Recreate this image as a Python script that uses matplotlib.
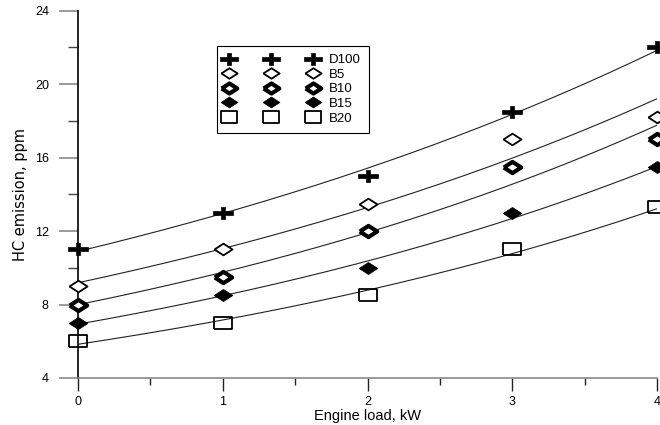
import numpy as np
import matplotlib.pyplot as plt
from matplotlib.path import Path

load = [0, 1, 2, 3, 4]
series = ['D100', 'B5', 'B10', 'B15', 'B20']
d100 = [11.0, 13.0, 15.0, 18.5, 22.0]
b5 = [9.0, 11.0, 13.5, 17.0, 18.2]
b10 = [8.0, 9.5, 12.0, 15.5, 17.0]
b15 = [7.0, 8.5, 10.0, 13.0, 15.5]
b20 = [6.0, 7.0, 8.5, 11.0, 13.3]
values = [d100, b5, b10, b15, b20]

plt.rcParams['font.family'] = ['Liberation Sans', 'DejaVu Sans']

# markers in the picture are stretched wider than tall
a = 1.55
t = 0.34
plus = Path([(-a, -t), (-t * 1.1, -t), (-t * 1.1, -1), (t * 1.1, -1), (t * 1.1, -t), (a, -t),
             (a, t), (t * 1.1, t), (t * 1.1, 1), (-t * 1.1, 1), (-t * 1.1, t), (-a, t), (-a, -t)])
diamond = Path([(-a, 0), (0, -1), (a, 0), (0, 1), (-a, 0)])
rect = Path([(-a, -1.05), (a, -1.05), (a, 1.05), (-a, 1.05), (-a, -1.05)])

styles = [
    dict(marker=plus, markersize=14.5, markerfacecolor='black', markeredgecolor='black', markeredgewidth=0.5),
    dict(marker=diamond, markersize=13, markerfacecolor='white', markeredgecolor='black', markeredgewidth=1.3),
    dict(marker=diamond, markersize=12.5, markerfacecolor='white', markeredgecolor='black', markeredgewidth=3.0),
    dict(marker=diamond, markersize=13.5, markerfacecolor='black', markeredgecolor='black', markeredgewidth=0.5),
    dict(marker=rect, markersize=13, markerfacecolor='none', markeredgecolor='black', markeredgewidth=1.3),
]

fig = plt.figure(figsize=(6.6, 4.25), dpi=100)
ax = fig.add_axes([78 / 660, 47 / 425, 579 / 660, 367.3 / 425])

x = np.array(load, dtype=float)
xs = np.linspace(0, 4, 200)
for name, y, st in zip(series, values, styles):
    # exponential trend line fitted to each series
    k, c = np.polyfit(x, np.log(y), 1)
    ax.plot(xs, np.exp(c + k * xs), color='#222222', linewidth=0.8, zorder=2)
    ax.plot(x, y, linestyle='none', label=name, clip_on=False, zorder=4, **st)

ax.set_xlim(0, 4)
ax.set_ylim(4, 24)
ax.set_xticks([0, 1, 2, 3, 4])
ax.set_xticks([0.5, 1.5, 2.5, 3.5], minor=True)
ax.set_yticks([4, 8, 12, 16, 20, 24])
ax.set_yticks([10, 14, 18, 22], minor=True)

for s in ['top', 'right']:
    ax.spines[s].set_visible(False)
ax.spines['left'].set_color('black')
ax.spines['left'].set_linewidth(1.2)
ax.spines['bottom'].set_color('#8a8a8a')
ax.spines['bottom'].set_linewidth(1.2)

ax.tick_params(axis='y', which='major', length=14, width=1.2, color='#8a8a8a', pad=7, labelsize=9)
ax.tick_params(axis='y', which='minor', length=7, width=1.0, color='#444444')
ax.tick_params(axis='x', which='major', length=9, width=1.0, color='#222222', pad=4, labelsize=9)
ax.tick_params(axis='x', which='minor', length=5, width=1.0, color='#222222')

ax.set_xlabel('Engine load, kW', fontsize=10.5, labelpad=0.5)
ax.set_ylabel('HC emission, ppm', fontsize=10.5, labelpad=5,
              family=['Liberation Sans Narrow', 'DejaVu Sans'])

leg = ax.legend(loc='upper left', bbox_to_anchor=(217 / 660, 1 - 46 / 425),
                bbox_transform=fig.transFigure, numpoints=3, handlelength=7.0,
                handletextpad=0.9, markerscale=0.9, fontsize=9.5, labelspacing=0.18,
                fancybox=False, framealpha=1, edgecolor='black', borderpad=0.6,
                borderaxespad=0)
leg.get_frame().set_linewidth(0.8)

fig.savefig('out.png', dpi=100)
